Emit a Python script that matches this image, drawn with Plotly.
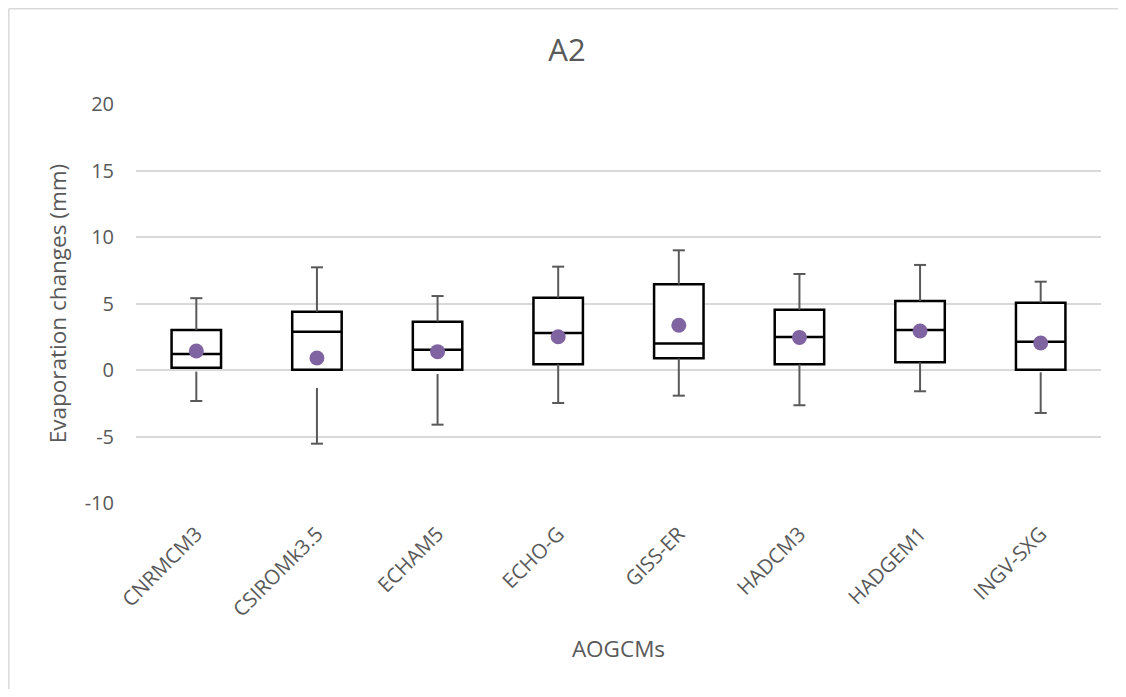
import plotly.graph_objects as go

categories = ["CNRMCM3", "CSIROMk3.5", "ECHAM5", "ECHO-G", "GISS-ER", "HADCM3", "HADGEM1", "INGV-SXG"]
q1 = [0.17, 0.02, 0.02, 0.43, 0.88, 0.43, 0.58, 0.02]
median = [1.2, 2.88, 1.53, 2.78, 2.0, 2.48, 3.0, 2.13]
q3 = [3.0, 4.38, 3.63, 5.44, 6.44, 4.53, 5.19, 5.06]
whisker_max = [5.4, 7.72, 5.56, 7.77, 9.0, 7.22, 7.9, 6.64]
whisker_min = [-2.33, -5.54, -4.11, -2.48, -1.93, -2.65, -1.6, -3.23]
lower_whisker_start = [-0.12, -1.35, -0.3, 0.43, 0.88, 0.43, 0.58, -0.17]
mean = [1.43, 0.9, 1.38, 2.5, 3.36, 2.45, 2.93, 2.03]
y_ticks = [-10, -5, 0, 5, 10, 15, 20]
y_tick_labels = ["-10", "-5", "0", "5", "10", "15", "20"]

pos = list(range(len(categories)))
cap = 0.05

TXT = "#595959"
FONT = "Open Sans"

fig = go.Figure()

# whiskers (stems + caps) built from data
wx, wy = [], []
for i in pos:
    wx += [i, i, None, i - cap, i + cap, None]
    wy += [q3[i], whisker_max[i], None, whisker_max[i], whisker_max[i], None]
    wx += [i, i, None, i - cap, i + cap, None]
    wy += [lower_whisker_start[i], whisker_min[i], None, whisker_min[i], whisker_min[i], None]
fig.add_trace(go.Scatter(x=wx, y=wy, mode="lines",
                         line=dict(color="#595959", width=2),
                         hoverinfo="skip", showlegend=False))

fig.add_trace(go.Box(
    x=pos, q1=q1, median=median, q3=q3,
    lowerfence=q1, upperfence=q3,
    width=0.41, whiskerwidth=0,
    fillcolor="white", line=dict(color="black", width=2.5),
    boxpoints=False, showlegend=False,
))

fig.add_trace(go.Scatter(x=pos, y=mean, mode="markers",
                         marker=dict(color="#8064A2", size=15),
                         showlegend=False))

# page body has an 8px margin on every side; keep the page from overflowing
OFF = 8
WW, WH = 1126, 697
W, H = WW - 2 * OFF, WH - 2 * OFF
L, T = 136 - OFF, 104 - OFF
R = (OFF + W) - 1101
B = (OFF + H) - 503
pw, ph = W - L - R, H - T - B

def px_x(p):
    return (p - OFF - L) / pw

def px_y(p):
    return (H - B - (p - OFF)) / ph

border_x = OFF + 0.8
border_y = OFF + 0.8

fig.update_layout(
    width=W, height=H,
    margin=dict(l=L, r=R, t=T, b=B, autoexpand=False),
    paper_bgcolor="white", plot_bgcolor="white",
    font=dict(family=FONT, color=TXT),
    title=dict(text="A2", x=(567 - OFF) / W, xref="container", xanchor="center",
               y=1 - (50 - OFF) / H, yref="container", yanchor="middle",
               font=dict(size=31, color=TXT, family=FONT)),
    xaxis=dict(
        range=[-0.5, len(categories) - 0.5],
        tickvals=pos, ticktext=categories, tickangle=-45,
        tickfont=dict(size=20.5, color=TXT),
        showgrid=False, zeroline=False, showline=False, ticks="",
        ticklabelstandoff=14,
        title=dict(text="AOGCMs", font=dict(size=22.5, color=TXT), standoff=20),
        automargin=False,
    ),
    yaxis=dict(
        range=[-10, 20], tickvals=y_ticks, ticktext=y_tick_labels,
        tickfont=dict(size=20, color=TXT),
        showgrid=True, gridcolor="#d9d9d9", gridwidth=1.5,
        zeroline=False, showline=False, ticks="",
        ticklabelstandoff=21,
        title=dict(text="Evaporation changes (mm)", font=dict(size=22.5, color=TXT), standoff=11),
        automargin=False,
    ),
    shapes=[
        dict(type="line", xref="paper", yref="paper",
             x0=px_x(border_x), x1=px_x(border_x), y0=px_y(border_y), y1=px_y(WH + 20),
             line=dict(color="#d9d9d9", width=1.5)),
        dict(type="line", xref="paper", yref="paper",
             x0=px_x(border_x), x1=px_x(WW + 20), y0=px_y(border_y), y1=px_y(border_y),
             line=dict(color="#d9d9d9", width=1.5)),
    ],
)

fig.write_html("out.html")
